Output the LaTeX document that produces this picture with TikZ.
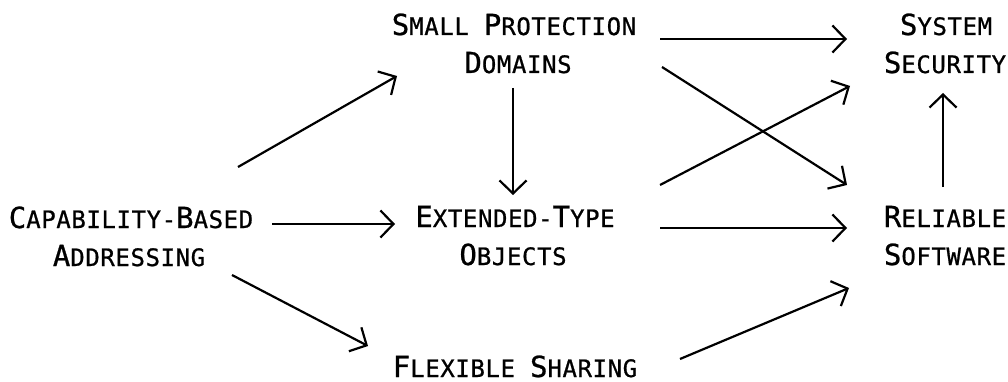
\documentclass[tikz,border=0pt]{standalone}
\usepackage{fontspec}
\usetikzlibrary{arrows.meta}
\newfontfamily\plotfont[LetterSpace=2.5,FakeBold=0.8]{DejaVu Sans Mono}
\newcommand\Lg{\fontsize{29}{32}\selectfont}
\begin{document}
\begin{tikzpicture}[x=1pt,y=-1pt,
  lbl/.style={inner sep=0pt,anchor=base,font=\plotfont\fontsize{24}{27}\selectfont},
  arr/.style={line width=2.2pt,-{Straight Barb[length=13pt,width=27pt,line width=2.2pt]}}]
\useasboundingbox[fill=white] (0,0) rectangle (1008,382);
% nodes
\node[lbl] (capA) at (131,228) {{\Lg C}APABILITY-{\Lg B}ASED};
\node[lbl] (capB) at (129,266) {{\Lg A}DDRESSING};
\node[lbl] (smA)  at (514,35)  {{\Lg S}MALL {\Lg P}ROTECTION};
\node[lbl] (smB)  at (518,73)  {{\Lg D}OMAINS};
\node[lbl] (extA) at (515,227) {{\Lg E}XTENDED-{\Lg T}YPE};
\node[lbl] (extB) at (513,265) {{\Lg O}BJECTS};
\node[lbl] (flex) at (515,377) {{\Lg F}LEXIBLE {\Lg S}HARING};
\node[lbl] (sysA) at (946,35)  {{\Lg S}YSTEM};
\node[lbl] (sysB) at (945,73)  {{\Lg S}ECURITY};
\node[lbl] (relA) at (945,227) {{\Lg R}ELIABLE};
\node[lbl] (relB) at (945,265) {{\Lg S}OFTWARE};
% connectors
\draw[arr] ([shift={(107,-61)}]capA.base) -- ([shift={(-117,41)}]smA.base);
\draw[arr] ([shift={(141,-4)}]capA.base) -- ([shift={(-120,-3)}]extA.base);
\draw[arr] ([shift={(103,9)}]capB.base) -- ([shift={(-147,-31)}]flex.base);
\draw[arr] ([shift={(146,4)}]smA.base) -- ([shift={(-99,4)}]sysA.base);
\draw[arr] ([shift={(-5,15)}]smB.base) -- ([shift={(-2,-32)}]extA.base);
\draw[arr] ([shift={(144,-6)}]smB.base) -- ([shift={(-98,-42)}]relA.base);
\draw[arr] ([shift={(145,-42)}]extA.base) -- ([shift={(-95,13)}]sysB.base);
\draw[arr] ([shift={(145,1)}]extA.base) -- ([shift={(-98,1)}]relA.base);
\draw[arr] ([shift={(165,-18)}]flex.base) -- ([shift={(-96,23)}]relB.base);
\draw[arr] ([shift={(-2,-40)}]relA.base) -- ([shift={(-2,20)}]sysB.base);
\end{tikzpicture}
\end{document}
